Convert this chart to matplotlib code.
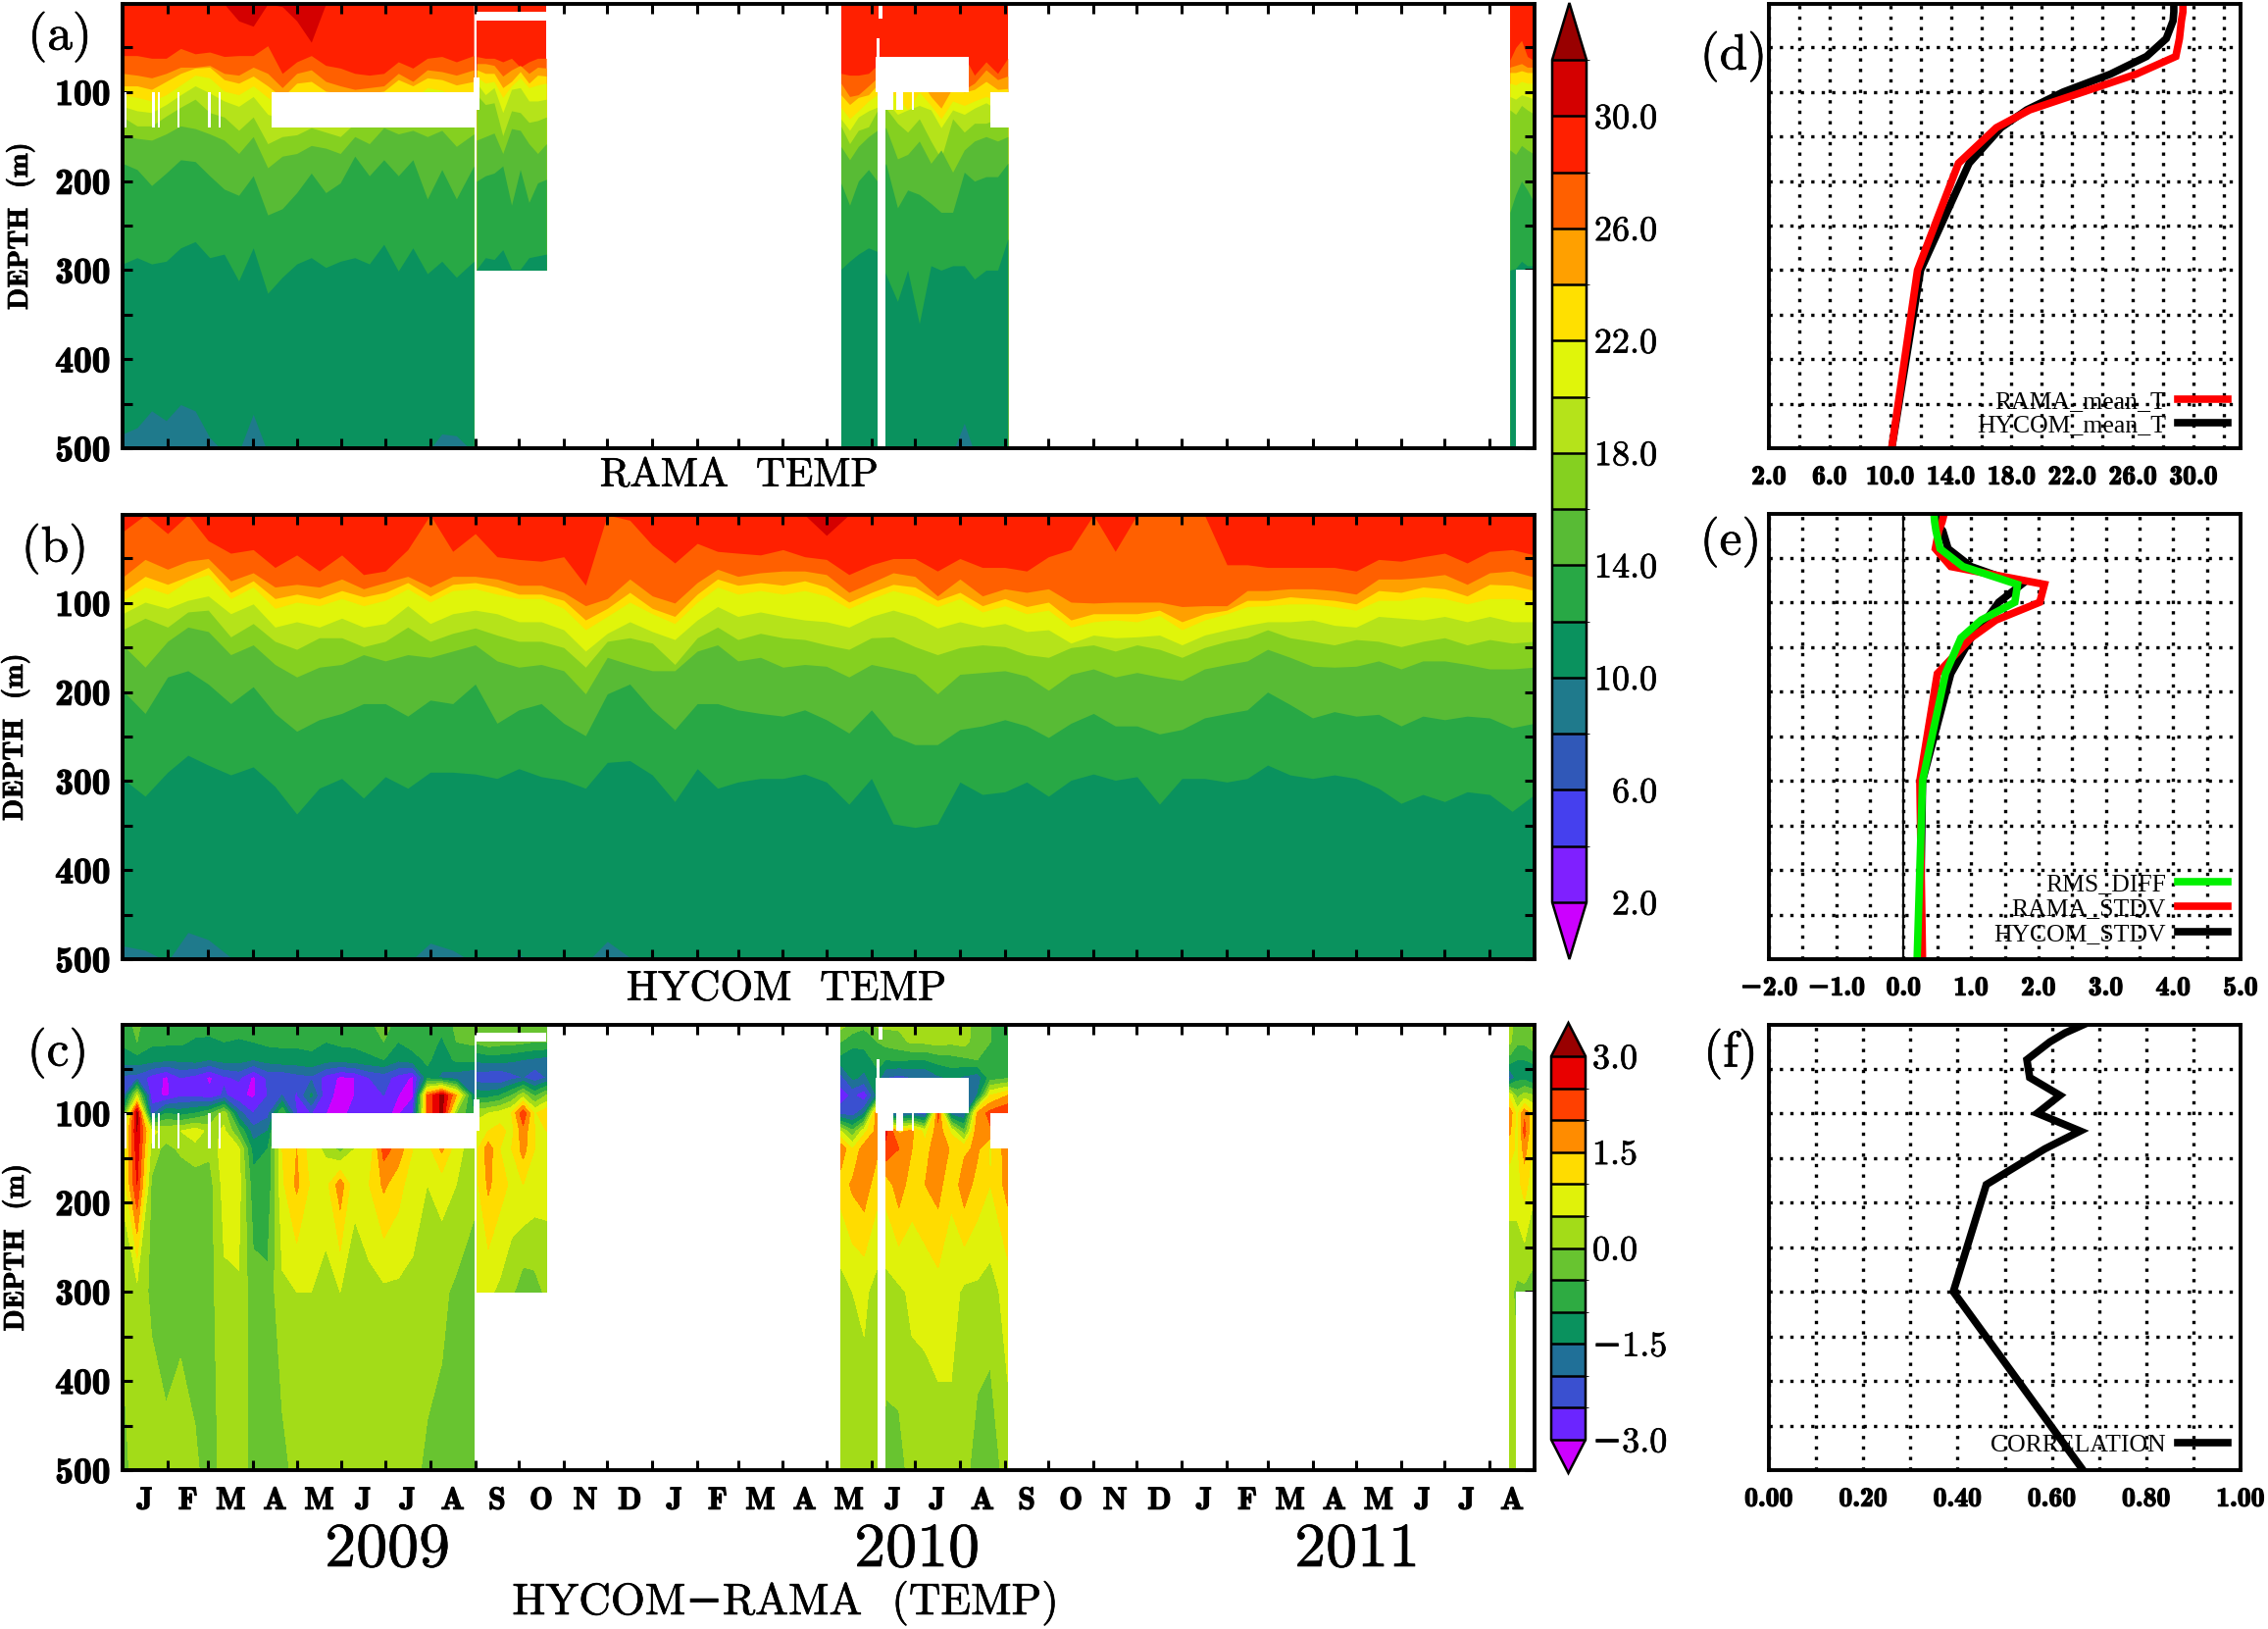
import numpy as np
import matplotlib
matplotlib.use('Agg')
import matplotlib.pyplot as plt
import matplotlib.patheffects as pe
from matplotlib.colors import ListedColormap, BoundaryNorm
from matplotlib.font_manager import FontProperties
from matplotlib.ticker import NullFormatter

# ---- time axis (days since 1 Jan 2009)
month_len = [31, 28, 31, 30, 31, 30, 31, 31, 30, 31, 30, 31,
             31, 28, 31, 30, 31, 30, 31, 31, 30, 31, 30, 31,
             31, 28, 31, 30, 31, 30, 31, 31]
month_labels = list('JFMAMJJASONDJFMAMJJASONDJFMAMJJA')
year_labels = ['2009', '2010', '2011']
month_start = np.concatenate([[0], np.cumsum(month_len)])
month_mid = (month_start[:-1] + month_start[1:]) / 2

# ---- colours of the two scales, cold to warm
temp_levels = np.arange(2, 33, 2)
temp_colors = ['#7F20FF', '#4540EE', '#3058B8', '#1F7A8C', '#0A925E', '#28A845',
               '#58BB35', '#85D020', '#B5E31A', '#E0F50A', '#FFE000', '#FFA000',
               '#FF6000', '#FF2000', '#D40000']
temp_under, temp_over = '#CC00FF', '#990000'
diff_levels = np.arange(-3, 3.01, 0.5)
diff_colors = ['#6B25FF', '#3A50D0', '#207098', '#0A925E', '#2EAB42', '#68C430',
               '#A3DC18', '#E0F20A', '#FFDC00', '#FF8C00', '#FF4000', '#E80000']
diff_under, diff_over = '#CC00FF', '#990000'

# ---- panel (b): isotherm depths (m), two knots per month
b_iso30 = [1] * 32 + [24] + [1] * 32
b_iso28 = [20, 1, 22, 1, 30, 44, 40, 60, 46, 64, 46, 68, 64, 40, 1, 42, 22, 48, 51, 53, 48, 80, 1, 7, 35, 55, 33, 42, 44, 46, 40,
           48, 51, 68, 57, 50, 50, 64, 50, 60, 60, 64, 48, 40, 1, 42, 1, 1, 1, 1, 57, 57, 60, 60, 60, 60, 64, 51, 53, 48, 44, 55, 42, 40, 46]
b_iso26 = [71, 51, 62, 53, 50, 75, 66, 82, 79, 82, 73, 84, 77, 70, 82, 70, 70, 73, 80, 80, 88, 103, 95, 73, 92, 100, 77, 62, 70, 66, 64,
           64, 68, 88, 77, 66, 70, 92, 73, 92, 84, 88, 84, 99, 100, 99, 99, 99, 104, 103, 103, 86, 86, 84, 84, 86, 90, 73, 73, 71, 68, 79, 66, 64, 71]
b_iso24 = [88, 70, 79, 70, 60, 88, 75, 95, 90, 95, 86, 93, 88, 77, 92, 79, 77, 82, 90, 90, 97, 119, 106, 88, 106, 115, 90, 73, 80, 77, 80,
           75, 82, 99, 88, 79, 82, 97, 88, 103, 95, 104, 99, 119, 112, 112, 112, 108, 121, 112, 108, 97, 97, 93, 95, 97, 101, 86, 88, 82, 84, 92, 79, 80, 86]
b_iso22 = [97, 82, 90, 75, 68, 95, 82, 106, 99, 103, 95, 103, 97, 84, 99, 86, 84, 90, 95, 95, 106, 130, 115, 99, 112, 123, 99, 82, 90, 86, 90,
           86, 92, 106, 95, 86, 92, 104, 95, 110, 103, 112, 108, 127, 121, 119, 121, 114, 130, 119, 112, 104, 103, 101, 101, 104, 108, 97, 97, 93, 95, 101, 95, 95, 99]
b_iso20 = [112, 99, 106, 97, 92, 112, 101, 127, 121, 127, 117, 127, 123, 103, 123, 112, 108, 112, 121, 121, 130, 154, 134, 121, 132, 141, 119, 104, 115, 110, 115,
           119, 121, 127, 115, 108, 115, 128, 121, 127, 123, 132, 130, 145, 136, 139, 138, 136, 147, 136, 130, 125, 121, 121, 119, 125, 127, 115, 117, 119, 115, 121, 115, 121, 121]
b_iso18 = [130, 117, 127, 110, 108, 138, 123, 143, 152, 139, 139, 149, 143, 127, 143, 134, 128, 136, 143, 143, 150, 172, 143, 139, 145, 169, 139, 127, 141, 134, 139,
           141, 147, 152, 139, 138, 149, 158, 150, 147, 149, 158, 161, 150, 147, 154, 147, 152, 161, 150, 143, 139, 130, 139, 143, 147, 141, 143, 149, 143, 139, 147, 141, 145, 143]
b_iso16 = [147, 172, 143, 127, 132, 158, 147, 169, 183, 172, 169, 158, 165, 158, 161, 154, 147, 165, 172, 169, 176, 202, 161, 169, 176, 176, 154, 147, 165, 161, 172,
           169, 171, 183, 169, 174, 180, 202, 180, 178, 176, 182, 198, 180, 174, 183, 178, 183, 187, 174, 169, 165, 152, 161, 171, 172, 171, 165, 174, 165, 165, 169, 174, 174, 172]
b_iso14 = [198, 224, 183, 176, 191, 213, 194, 224, 244, 231, 224, 213, 213, 227, 209, 213, 191, 235, 220, 213, 235, 249, 202, 191, 220, 242, 213, 213, 220, 224, 227,
           220, 231, 246, 220, 249, 259, 259, 242, 238, 231, 238, 251, 235, 224, 238, 238, 247, 242, 229, 224, 220, 200, 214, 229, 222, 227, 225, 238, 227, 231, 227, 229, 240, 235]
b_iso12 = [297, 317, 290, 271, 282, 293, 284, 306, 337, 308, 297, 319, 295, 308, 290, 290, 292, 297, 286, 295, 299, 308, 279, 277, 293, 323, 286, 308, 301, 297, 297,
           292, 301, 326, 297, 348, 352, 348, 301, 315, 312, 301, 317, 299, 292, 299, 295, 326, 297, 297, 301, 297, 282, 293, 297, 293, 297, 308, 325, 315, 323, 312, 315, 334, 315]
b_iso10 = [485, 490, 503, 470, 478, 498, 498, 505, 500, 505, 505, 505, 505, 505, 482, 490, 505, 505, 495, 505, 505, 505, 480, 498, 505, 505, 505, 505, 505, 505, 505,
           505, 505, 505, 505, 505, 505, 505, 505, 505, 505, 505, 505, 505, 505, 505, 505, 505, 505, 505, 505, 505, 505, 505, 505, 505, 505, 505, 505, 505, 505, 505, 505, 505, 505]

# ---- panel (a): isotherm depths (m) of the RAMA record, one table per stretch of data
a1_days = [0, 10, 20, 30, 40, 50, 60, 70, 80, 90, 100, 110, 120, 130, 140, 150, 160, 170, 180, 190, 200, 210, 220, 230, 242]
a1_iso30 = [1, 1, 1, 1, 1, 1, 1, 1, 20, 26, 1, 4, 20, 44, 1, 1, 1, 1, 1, 1, 1, 1, 1, 1, 1]
a1_iso28 = [59, 59, 62, 62, 51, 57, 55, 60, 59, 59, 48, 79, 66, 59, 70, 73, 79, 81, 79, 66, 73, 62, 60, 66, 59]
a1_iso26 = [79, 81, 84, 79, 72, 72, 70, 79, 81, 72, 79, 95, 79, 75, 88, 93, 97, 95, 93, 79, 88, 75, 77, 81, 75]
a1_iso24 = [93, 93, 97, 88, 79, 73, 72, 86, 90, 82, 93, 106, 90, 88, 99, 101, 101, 101, 99, 86, 93, 84, 86, 92, 88]
a1_iso22 = [103, 106, 110, 103, 92, 81, 84, 99, 103, 93, 106, 117, 105, 102, 108, 112, 112, 112, 110, 100, 108, 95, 98, 106, 100]
a1_iso20 = [116, 121, 123, 114, 103, 93, 101, 110, 116, 105, 125, 130, 120, 118, 125, 128, 128, 128, 125, 115, 123, 108, 112, 120, 115]
a1_iso18 = [128, 138, 138, 127, 117, 108, 123, 128, 143, 128, 158, 150, 148, 140, 145, 150, 135, 138, 128, 130, 132, 125, 130, 138, 128]
a1_iso16 = [149, 152, 154, 147, 138, 141, 147, 154, 169, 150, 185, 172, 169, 160, 163, 169, 150, 158, 140, 147, 143, 150, 143, 161, 147]
a1_iso14 = [180, 187, 205, 191, 176, 178, 194, 209, 216, 194, 238, 231, 213, 191, 213, 202, 172, 194, 176, 194, 176, 220, 187, 220, 183]
a1_iso12 = [293, 286, 293, 290, 275, 268, 286, 282, 312, 275, 326, 308, 293, 286, 297, 290, 286, 293, 271, 301, 275, 304, 290, 308, 290]
a1_iso10 = [484, 477, 458, 469, 451, 458, 488, 505, 505, 462, 505, 505, 505, 505, 505, 505, 505, 505, 505, 505, 505, 505, 484, 486, 505]

a2_days = [244, 250, 256, 262, 268, 274, 280, 286, 292]
a2_iso28 = [60, 62, 62, 66, 62, 72, 66, 62, 62]
a2_iso26 = [68, 68, 70, 82, 75, 70, 79, 72, 73]
a2_iso24 = [75, 79, 79, 95, 88, 77, 90, 81, 82]
a2_iso22 = [83, 90, 88, 106, 93, 84, 95, 92, 90]
a2_iso20 = [90, 103, 95, 123, 97, 95, 110, 110, 108]
a2_iso18 = [103, 114, 112, 149, 121, 123, 134, 132, 128]
a2_iso16 = [154, 150, 146, 169, 141, 143, 158, 169, 158]
a2_iso14 = [200, 194, 191, 183, 227, 187, 224, 202, 198]
a2_iso12 = [299, 286, 288, 277, 299, 299, 286, 284, 282]

a3_days = [495, 501, 507, 514, 520, 526, 534, 541, 549, 557, 564, 572, 580, 587, 595, 603, 610]
a3_iso28 = [79, 81, 81, 79, 70, 60, 60, 60, 60, 60, 60, 60, 60, 81, 66, 79, 62]
a3_iso26 = [90, 105, 103, 93, 84, 62, 62, 62, 62, 62, 62, 62, 97, 90, 75, 86, 82]
a3_iso24 = [103, 114, 106, 103, 92, 70, 80, 85, 85, 105, 118, 95, 100, 97, 88, 97, 96]
a3_iso22 = [117, 130, 121, 110, 103, 100, 105, 120, 100, 115, 130, 110, 115, 110, 105, 110, 108]
a3_iso20 = [130, 143, 128, 121, 117, 110, 125, 120, 115, 120, 140, 120, 125, 118, 112, 120, 118]
a3_iso18 = [138, 158, 143, 139, 121, 118, 135, 145, 130, 155, 175, 130, 145, 135, 135, 130, 130]
a3_iso16 = [161, 176, 161, 150, 143, 140, 175, 170, 155, 180, 165, 190, 165, 155, 150, 155, 150]
a3_iso14 = [202, 227, 200, 187, 200, 180, 230, 210, 215, 225, 235, 235, 190, 200, 195, 195, 180]
a3_iso12 = [299, 290, 282, 275, 279, 305, 335, 300, 360, 295, 300, 295, 295, 310, 300, 300, 265]
a3_iso10 = [505, 505, 505, 505, 505, 505, 505, 505, 505, 505, 505, 505, 472, 505, 505, 505, 505]

a4_days = [956, 960, 964, 968, 973]
a4_iso28 = [64, 50, 42, 60, 65]
a4_iso26 = [72, 70, 68, 72, 72]
a4_iso24 = [78, 78, 76, 78, 78]
a4_iso22 = [90, 92, 88, 90, 90]
a4_iso20 = [105, 108, 103, 105, 108]
a4_iso18 = [120, 125, 115, 120, 125]
a4_iso16 = [165, 170, 160, 165, 170]
a4_iso14 = [235, 215, 200, 210, 225]
a4_iso12 = [300, 298, 290, 295, 295]

# ---- panel (c): HYCOM-RAMA (deg C) on the mooring depths, rows are depths
c_depths = [1, 20, 40, 60, 80, 100, 120, 140, 180, 300, 500]

c1_days = [0, 10, 20, 30, 40, 50, 60, 70, 80, 90, 100, 110, 120, 130, 140, 150, 160, 170, 180, 190, 200, 210, 220, 230, 242]
c1_diff = [
    [-0.7, -0.4, -0.8, -0.7, -0.7, -0.7, -0.8, -0.7, -0.6, -0.7, -0.7, -0.7, -0.7, -0.7, -0.7, -0.7, -0.7, -0.6, -0.3, -0.7, -0.6, -0.7, -0.8, -0.4, -0.4],
    [-0.9, -0.5, -0.9, -0.9, -0.9, -1.1, -1.1, -1.0, -1.1, -1.0, -0.9, -0.9, -0.9, -0.9, -1.0, -0.9, -0.9, -0.8, -0.5, -1.0, -0.8, -0.7, -1.1, -0.5, -0.4],
    [-1.3, -1.2, -1.3, -1.4, -1.4, -1.3, -1.5, -1.3, -1.3, -1.5, -1.3, -1.2, -1.2, -1.1, -1.3, -1.3, -1.2, -1.1, -1.0, -1.4, -1.2, -0.9, -1.3, -0.9, -0.9],
    [-2.1, -2.2, -2.7, -3.1, -2.5, -2.7, -3.1, -2.6, -2.4, -3.1, -2.4, -2.4, -2.2, -2.1, -2.7, -3.1, -3.0, -2.5, -2.3, -2.7, -3.1, -1.2, -1.6, -1.8, -2.0],
    [-2.3, 0.5, -2.8, -3.1, -2.6, -2.6, -2.9, -2.4, -2.9, -3.1, -2.5, -2.0, -2.6, -1.4, -2.9, -3.1, -3.0, -2.6, -2.5, -3.0, -3.1, 2.0, 3.2, 1.5, -1.5],
    [-1.0, 3.2, -2.2, -1.0, -1.2, -1.0, -0.6, 0.3, -1.8, -2.5, -2.2, -0.5, -2.5, -2.5, -3.0, -3.1, -2.9, -2.9, -2.9, -3.1, -2.5, 2.0, 3.2, 0.0, -1.0],
    [0.4, 3.0, 0.6, 0.4, 0.5, 0.8, 0.3, 0.6, -0.5, -1.8, -1.5, 0.6, 1.0, 0.2, 0.0, -0.5, 0.2, 0.2, 1.5, 1.2, 0.7, 0.8, 1.6, 0.6, 0.1],
    [0.5, 2.8, 0.3, -0.2, 0.1, 0.3, 0.1, 0.8, 0.6, -1.2, -1.0, 1.0, 1.5, 0.7, 0.4, -0.2, 0.5, 0.6, 2.2, 1.8, 1.0, 0.8, 1.6, 0.7, 0.2],
    [0.6, 2.5, -0.1, -0.4, -0.4, -0.3, -0.2, 0.7, 0.7, -0.8, -0.9, 0.9, 1.6, 0.9, 0.8, 1.8, 0.6, 1.0, 1.6, 1.2, 0.7, 0.5, 0.7, 0.5, 0.1],
    [0.1, 0.3, -0.1, -0.25, -0.15, -0.3, -0.2, 0.4, 0.45, -0.3, -0.35, 0.4, 0.5, 0.5, 0.3, 0.5, 0.3, 0.3, 0.4, 0.4, 0.4, 0.5, 0.1, -0.1, -0.2],
    [-0.2, 0.25, 0.3, 0.15, 0.25, 0.1, -0.25, 0.2, 0.3, -0.2, -0.1, -0.2, 0.2, 0.25, 0.15, 0.3, 0.2, 0.1, 0.05, 0.2, 0.25, -0.2, -0.15, -0.25, -0.3],
]

c2_days = [244, 252, 260, 268, 276, 284, 292]
c2_diff = [
    [0.1, -0.2, -0.4, -0.2, -0.4, -0.3, -0.4],
    [-0.4, -0.2, -0.3, -0.3, -0.4, -0.5, -0.5],
    [-1.4, -1.3, -1.3, -1.4, -1.5, -1.6, -1.7],
    [-2.3, -2.4, -2.5, -2.2, -2.0, -2.4, -2.0],
    [-1.2, -1.2, -1.0, -0.5, 0.3, -0.6, 0.0],
    [0.3, 0.5, 0.7, 1.0, 2.4, 0.9, 1.4],
    [0.8, 1.0, 1.2, 0.8, 1.8, 1.0, 1.0],
    [0.9, 1.8, 1.0, 1.0, 1.7, 1.0, 1.0],
    [0.9, 1.6, 1.2, 0.9, 1.0, 0.8, 0.7],
    [0.5, 0.6, 0.4, 0.1, -0.3, -0.2, 0.1],
]

c3_days = [495, 503, 511, 520, 526, 535, 544, 553, 562, 571, 580, 589, 598, 610]
c3_diff = [
    [0.2, -0.2, -0.4, 0.1, 0.1, 0.1, 0.2, 0.2, 0.2, 0.2, 0.2, -0.2, -0.5, -0.7],
    [-0.5, -0.8, -0.8, -0.5, -0.3, -0.2, 0.1, 0.1, 0.2, 0.1, 0.2, -0.3, -0.5, -0.8],
    [-1.2, -1.4, -1.3, -0.8, -1.0, -0.9, -1.0, -1.0, -0.8, -0.7, -0.6, -0.5, -0.5, -0.5],
    [-2.2, -1.4, -1.6, -1.2, -2.0, -2.2, -2.0, -2.0, -1.6, -1.4, -1.6, -1.8, -0.8, -0.6],
    [-2.8, -2.4, -2.9, -1.4, -2.4, -2.5, -2.4, -2.2, -2.0, -1.8, -2.0, -1.5, 1.0, 1.5],
    [-2.2, -2.3, -1.6, 2.0, -2.0, -2.2, -2.0, -2.4, 2.2, -1.8, -2.0, 1.6, 2.2, 2.5],
    [0.5, -0.4, 0.8, 1.7, 2.6, 1.4, 1.6, 0.8, 1.8, 0.9, -0.4, 1.9, 1.9, 1.6],
    [1.9, 1.0, 1.8, 1.6, 2.4, 2.0, 1.5, 1.2, 2.0, 1.4, 1.4, 1.6, 0.9, 1.8],
    [1.2, 1.6, 1.8, 1.2, 1.2, 1.8, 1.2, 1.5, 1.7, 1.1, 1.8, 1.3, 1.0, 1.7],
    [0.3, 0.5, 0.6, 0.3, 0.3, 0.4, 0.6, 0.6, 0.8, 0.7, 0.4, 0.4, 0.3, 0.7],
    [0.2, 0.3, 0.2, 0.2, -0.2, -0.2, 0.2, 0.3, 0.2, 0.3, 0.2, -0.3, -0.4, 0.3],
]

c4_days = [956, 961, 966, 973]
c4_diff = [
    [0.2, -0.3, -0.3, 0.2],
    [0.1, -0.4, -0.4, -0.1],
    [-0.7, -1.0, -1.0, -0.8],
    [-2.1, -1.2, -1.2, -1.6],
    [0.8, -0.2, 0.2, 0.0],
    [1.8, 0.8, 1.9, 1.0],
    [1.6, 0.7, 2.2, 0.7],
    [1.2, 0.9, 1.7, 0.8],
    [0.7, 0.8, 1.2, 0.6],
    [0.1, -0.1, -0.1, -0.2],
    [0.2, 0.2, 0.2, 0.2],
]

# missing data in panels (a) and (c): first day, last day, top depth, bottom depth
gap_days0 = [1, 20.5, 24.5, 38, 59, 66, 103, 242, 244, 519, 520, 520, 533, 543.6, 519.5, 521, 598, 960]
gap_days1 = [2.5, 22, 26, 39.5, 60.5, 67.5, 244, 246, 292, 583, 526, 531, 538, 545, 521.5, 523.5, 611, 973]
gap_top = [100, 100, 100, 100, 100, 100, 100, 84, 10, 60, 100, 100, 100, 100, 40, 1, 100, 300]
gap_bottom = [140, 140, 140, 140, 140, 140, 140, 120, 20, 100, 500, 120, 120, 120, 60, 18, 140, 500]

# ---- mean / stdv / correlation profiles
rama_depths = [1, 10, 20, 40, 60, 80, 100, 120, 140, 180, 300, 500]
rama_mean = [29.3, 29.3, 29.2, 29.07, 28.83, 26.2, 22.7, 19.2, 17.0, 14.5, 11.8, 10.1]
hycom_mean = [28.7, 28.7, 28.65, 28.2, 26.9, 24.5, 21.4, 19.0, 17.3, 15.2, 12.0, 10.1]
rama_stdv = [0.6, 0.57, 0.52, 0.47, 0.7, 2.09, 2.02, 1.37, 1.0, 0.5, 0.24, 0.28]
hycom_stdv = [0.48, 0.48, 0.58, 0.66, 1.0, 1.75, 1.41, 1.22, 1.0, 0.7, 0.28, 0.24]
rms_diff = [0.45, 0.46, 0.48, 0.54, 0.88, 1.69, 1.65, 1.15, 0.85, 0.62, 0.28, 0.2]
correlation = [0.666, 0.628, 0.596, 0.547, 0.553, 0.617, 0.569, 0.66, 0.585, 0.461, 0.391, 0.666]

W, H = 2313, 1661
BOLD = ['cmb10', 'DejaVu Serif']
ROMAN = ['cmr10', 'DejaVu Serif']
HEAVY = [pe.withStroke(linewidth=0.9, foreground='black')]
THICK = [pe.withStroke(linewidth=0.45, foreground='black')]

fig = plt.figure(figsize=(W / 100, H / 100), dpi=100)


def px_axes(left, top, right, bottom):
    return fig.add_axes([left / W, 1 - bottom / H, (right - left) / W, (bottom - top) / H])


def px_text(x, y, s, size, family=ROMAN, **kw):
    fig.text(x / W, 1 - y / H, s, fontsize=size, family=family, va='center', path_effects=THICK, **kw)


def frame(ax):
    for sp in ax.spines.values():
        sp.set_linewidth(2.8)
    ax.set_ylim(500, 1)
    ax.set_yticks([50, 150, 250, 350, 450], minor=True)
    ax.set_yticks([100, 200, 300, 400, 500])


def time_panel(ax, label_x, show_months=False):
    frame(ax)
    ax.set_xlim(0, 973)
    ax.set_xticks(month_start[1:-1])
    ax.xaxis.set_major_formatter(NullFormatter())
    ax.set_yticklabels(['100', '200', '300', '400', '500'], fontsize=27, family=BOLD, path_effects=HEAVY)
    ax.tick_params(which='both', direction='in', length=7, width=2.2, top=True, right=True, pad=9)
    ax.set_ylabel('DEPTH  (m)', fontsize=21, family=BOLD, path_effects=THICK)
    ax.yaxis.set_label_coords(label_x, 0.5)
    if show_months:
        ax.set_xticks(month_mid, labels=month_labels, minor=True, fontsize=23, family=BOLD, path_effects=HEAVY)
        ax.tick_params(axis='x', which='minor', length=0, pad=12)


def draw_isotherms(ax, days, isos, bottom=500):
    # painted from warm to cold, each colder class reaches down to the bottom
    levels = list(temp_levels)
    ax.fill_between(days, 1, bottom, color=temp_colors[levels.index(isos[0][0])], lw=0)
    for level, iso in isos:
        ax.fill_between(days, iso, bottom, color=temp_colors[levels.index(level) - 1], lw=0)


def draw_gaps(ax):
    for d0, d1, z0, z1 in zip(gap_days0, gap_days1, gap_top, gap_bottom):
        ax.fill_between([d0, d1], z0, z1, color='white', lw=0, zorder=2)


temp_cmap = ListedColormap(temp_colors)
temp_cmap.set_under(temp_under)
temp_cmap.set_over(temp_over)
temp_norm = BoundaryNorm(temp_levels, temp_cmap.N)
diff_cmap = ListedColormap(diff_colors)
diff_cmap.set_under(diff_under)
diff_cmap.set_over(diff_over)
diff_norm = BoundaryNorm(diff_levels, diff_cmap.N)

# (a) RAMA temperature
ax_a = px_axes(125, 4, 1565, 457)
draw_isotherms(ax_a, a1_days, [(30, a1_iso30), (28, a1_iso28), (26, a1_iso26), (24, a1_iso24), (22, a1_iso22),
                               (20, a1_iso20), (18, a1_iso18), (16, a1_iso16), (14, a1_iso14), (12, a1_iso12), (10, a1_iso10)])
draw_isotherms(ax_a, a2_days, [(28, a2_iso28), (26, a2_iso26), (24, a2_iso24), (22, a2_iso22), (20, a2_iso20),
                               (18, a2_iso18), (16, a2_iso16), (14, a2_iso14), (12, a2_iso12)], bottom=300)
draw_isotherms(ax_a, a3_days, [(28, a3_iso28), (26, a3_iso26), (24, a3_iso24), (22, a3_iso22), (20, a3_iso20),
                               (18, a3_iso18), (16, a3_iso16), (14, a3_iso14), (12, a3_iso12), (10, a3_iso10)])
draw_isotherms(ax_a, a4_days, [(28, a4_iso28), (26, a4_iso26), (24, a4_iso24), (22, a4_iso22), (20, a4_iso20),
                               (18, a4_iso18), (16, a4_iso16), (14, a4_iso14), (12, a4_iso12)])
draw_gaps(ax_a)
time_panel(ax_a, -0.0625)

# (b) HYCOM temperature
b_days = np.interp(np.arange(65) / 2, np.arange(33), month_start)
ax_b = px_axes(125, 525, 1565, 978)
draw_isotherms(ax_b, b_days, [(30, b_iso30), (28, b_iso28), (26, b_iso26), (24, b_iso24), (22, b_iso22),
                              (20, b_iso20), (18, b_iso18), (16, b_iso16), (14, b_iso14), (12, b_iso12), (10, b_iso10)])
time_panel(ax_b, -0.066)

# (c) difference
ax_c = px_axes(125, 1045, 1565, 1499)
for days, diff in [(c1_days, c1_diff), (c2_days, c2_diff), (c3_days, c3_diff), (c4_days, c4_diff)]:
    ax_c.contourf(days, c_depths[:len(diff)], diff, levels=diff_levels, cmap=diff_cmap, norm=diff_norm, extend='both')
draw_gaps(ax_c)
time_panel(ax_c, -0.0653, show_months=True)

# colour bars, the axes box includes the two end triangles
cax1 = px_axes(1583, 3, 1618, 978)
cb1 = fig.colorbar(plt.cm.ScalarMappable(norm=temp_norm, cmap=temp_cmap), cax=cax1, extend='both',
                   extendfrac=58 / 859, spacing='uniform', drawedges=True)
cax2 = px_axes(1582, 1043, 1617, 1502)
cb2 = fig.colorbar(plt.cm.ScalarMappable(norm=diff_norm, cmap=diff_cmap), cax=cax2, extend='both',
                   extendfrac=34 / 391, spacing='uniform', drawedges=True)
cb1.set_ticks([2, 6, 10, 14, 18, 22, 26, 30], labels=['2.0', '6.0', '10.0', '14.0', '18.0', '22.0', '26.0', '30.0'])
cb2.set_ticks([-3, -1.5, 0, 1.5, 3], labels=['\u22123.0', '\u22121.5', '0.0', '1.5', '3.0'])
for cb, pad in ((cb1, 52), (cb2, 5)):
    cb.outline.set_linewidth(1.8)
    cb.dividers.set_linewidth(1.8)
    cb.ax.tick_params(length=0, pad=pad)
    for lab in cb.ax.get_yticklabels():
        lab.set_fontsize(26)
        lab.set_family(ROMAN)
        lab.set_path_effects(THICK)
        if cb is cb1:
            lab.set_ha('right')


def profile_panel(ax, xlim, majors, minors, labels):
    frame(ax)
    ax.set_xlim(*xlim)
    ax.set_xticks(majors, labels=labels, fontsize=20, family=BOLD, path_effects=HEAVY)
    ax.set_xticks(minors, minor=True)
    ax.set_yticklabels([])
    ax.grid(which='both', color='black', lw=2.4, linestyle=(0, (1, 2.2)))
    ax.set_axisbelow(True)
    ax.tick_params(which='both', length=0)
    ax.tick_params(axis='x', pad=12)


legend_font = FontProperties(family='Liberation Serif', size=18.5)
legend_kw = dict(loc='lower right', frameon=False, markerfirst=False, prop=legend_font, borderpad=0,
                 borderaxespad=0, handlelength=2, handletextpad=0.45)

# (d) means
ax_d = px_axes(1804, 4, 2285, 457)
profile_panel(ax_d, (2, 33.1), np.arange(2, 31, 4), np.arange(4, 33, 4),
              ['2.0', '6.0', '10.0', '14.0', '18.0', '22.0', '26.0', '30.0'])
l_hm, = ax_d.plot(hycom_mean, rama_depths, color='black', lw=5.5, label='HYCOM_mean_T', solid_joinstyle='miter')
l_rm, = ax_d.plot(rama_mean, rama_depths, color='#FF0000', lw=5.5, label='RAMA_mean_T', solid_joinstyle='miter')
ax_d.legend(handles=[l_rm, l_hm], bbox_to_anchor=(0.973, 0.026), labelspacing=0.05, **legend_kw)

# (e) standard deviations
ax_e = px_axes(1804, 524, 2285, 978)
profile_panel(ax_e, (-2, 5), np.arange(-2, 5.1, 1), np.arange(-1.5, 5, 1),
              ['\u22122.0', '\u22121.0', '0.0', '1.0', '2.0', '3.0', '4.0', '5.0'])
ax_e.axvline(0, color='black', lw=1.6, zorder=1.5)
l_hs, = ax_e.plot(hycom_stdv, rama_depths, color='black', lw=5.5, label='HYCOM_STDV', solid_joinstyle='miter')
l_rs, = ax_e.plot(rama_stdv, rama_depths, color='#FF0000', lw=5.5, label='RAMA_STDV', solid_joinstyle='miter')
l_rd, = ax_e.plot(rms_diff, rama_depths, color='#00F000', lw=5.5, label='RMS_DIFF', solid_joinstyle='miter')
ax_e.legend(handles=[l_rd, l_rs, l_hs], bbox_to_anchor=(0.973, 0.031), labelspacing=0.1, **legend_kw)

# (f) correlation
ax_f = px_axes(1804, 1045, 2285, 1499)
profile_panel(ax_f, (0, 1), np.arange(0, 1.01, 0.2), np.arange(0.1, 1, 0.2),
              ['0.00', '0.20', '0.40', '0.60', '0.80', '1.00'])
l_co, = ax_f.plot(correlation, rama_depths, color='black', lw=5.5, label='CORRELATION', solid_joinstyle='miter')
ax_f.legend(handles=[l_co], bbox_to_anchor=(0.973, 0.031), **legend_kw)

# panel letters and captions
for x, y, s in [(61, 38, '(a)'), (56, 560, '(b)'), (59, 1074, '(c)'), (1768, 58, '(d)'), (1765, 553, '(e)'), (1765, 1075, '(f)')]:
    px_text(x, y, s, 37, ha='center')
px_text(754, 485, 'RAMA  TEMP', 30, ha='center')
px_text(802, 1009, 'HYCOM  TEMP', 31, ha='center')
px_text(801, 1635, 'HYCOM\u2212RAMA  (TEMP)', 32.5, ha='center')
for x, s in zip([395, 935, 1384], year_labels):
    px_text(x, 1581, s, 46, ha='center')

fig.savefig('out.png', dpi=100)
